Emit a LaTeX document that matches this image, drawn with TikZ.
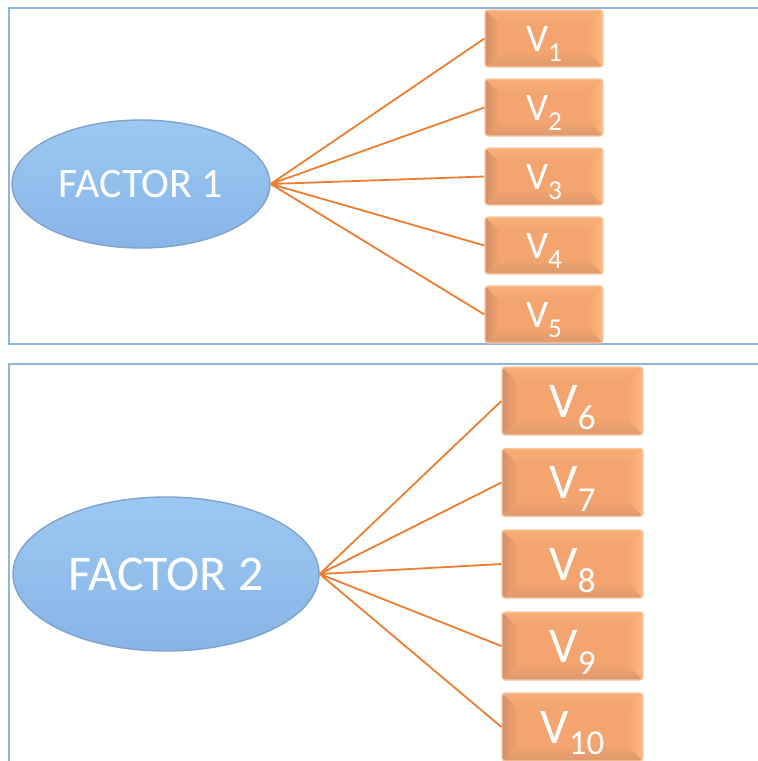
\documentclass[tikz,border=0pt]{standalone}
\usepackage{fontspec}
\usepackage{graphicx}
\setmainfont{Carlito}
\usetikzlibrary{shapes.geometric}

\definecolor{framec}{HTML}{8DB4E2}
\definecolor{linkc}{HTML}{ED7D31}
\definecolor{elltop}{HTML}{9CC8F2}
\definecolor{ellmid}{HTML}{8CB8E9}
\definecolor{ellbot}{HTML}{88B5E6}
\definecolor{ellrim}{HTML}{7EA3CC}
\definecolor{boxface}{HTML}{F3A46F}
\definecolor{boxrim}{HTML}{F8C9A2}
\definecolor{bvleft}{HTML}{D38F69}
\definecolor{bvtop}{HTML}{F8AE77}
\definecolor{bvright}{HTML}{FDB87E}
\definecolor{bvbot}{HTML}{DC996D}

% V with a lowered index
\newcommand{\vsub}[2][0.28em]{V\raisebox{-#1}[0pt][0pt]{\scalebox{0.7}{#2}}}

% bevel strips inside a box
\newcommand{\bevel}[1]{%
  \path (path picture bounding box.north west) coordinate (bNW)
        (path picture bounding box.north east) coordinate (bNE)
        (path picture bounding box.south east) coordinate (bSE)
        (path picture bounding box.south west) coordinate (bSW);
  \path (bNW) ++(#1,-#1) coordinate (iNW);
  \path (bNE) ++(-#1,-#1) coordinate (iNE);
  \path (bSE) ++(-#1,#1) coordinate (iSE);
  \path (bSW) ++(#1,#1) coordinate (iSW);
  \shade[sharp corners, top color=bvtop, bottom color=boxface] (bNW)--(bNE)--(iNE)--(iNW)--cycle;
  \shade[sharp corners, top color=boxface, bottom color=bvbot] (bSW)--(iSW)--(iSE)--(bSE)--cycle;
  \shade[sharp corners, left color=bvleft, right color=boxface] (bNW)--(iNW)--(iSW)--(bSW)--cycle;
  \shade[sharp corners, left color=boxface, right color=bvright] (bNE)--(bSE)--(iSE)--(iNE)--cycle;
}

\tikzset{
  factor/.style={ellipse, draw=ellrim, line width=1.4pt, top color=elltop,
    middle color=ellmid, bottom color=ellbot, text=white, inner sep=0pt},
  vbox/.style={rectangle, rounded corners=3pt, draw=boxrim, line width=1.2pt,
    fill=boxface, text=white, inner sep=0pt, path picture={\bevel{#1}}},
  link/.style={linkc, line width=1.8pt},
  panel/.style={framec, line width=1.6pt},
}

\begin{document}
\begin{tikzpicture}[x=1pt, y=-1pt]
    \useasboundingbox (0,0) rectangle (758,761);
    \clip (0,0) rectangle (758,761);

    % Two panels, open to the right (and below)
    \draw[panel] (9,8) rectangle (780,344);
    \draw[panel] (9,364) rectangle (780,790);

    % Factor 1 and its five variables
    \node[factor, minimum width=258, minimum height=128,
          font=\fontsize{42}{42}\selectfont] (f1) at (141,184) {FACTOR 1};

    \tikzset{every node/.append style={vbox=15pt, minimum width=118, minimum height=57,
             font=\fontsize{39}{39}\selectfont}}
    \node (v1) at (544,38.5) {\vsub{1}};
    \node (v2) at (544,107.5) {\vsub{2}};
    \node (v3) at (544,176.5) {\vsub{3}};
    \node (v4) at (544,245.5) {\vsub{4}};
    \node (v5) at (544,314.5) {\vsub{5}};

    \draw[link] (f1.east) -- (v1.west) (f1.east) -- (v2.west) (f1.east) -- (v3.west)
                (f1.east) -- (v4.west) (f1.east) -- (v5.west); % Fan out from factor 1

    % Factor 2 and its five variables
    \tikzset{every node/.style={}}
    \node[factor, minimum width=306, minimum height=154,
          font=\fontsize{50}{50}\selectfont] (f2) at (166,574) {FACTOR 2};

    \tikzset{every node/.append style={vbox=16pt, minimum width=141, minimum height=68,
             font=\fontsize{50}{50}\selectfont}}
    \node (v6) at (572.5,401) {\vsub[0.25em]{6}};
    \node (v7) at (572.5,482.5) {\vsub[0.25em]{7}};
    \node (v8) at (572.5,564) {\vsub[0.25em]{8}};
    \node (v9) at (572.5,646) {\vsub[0.25em]{9}};
    \node (v10) at (572.5,727) {\vsub[0.22em]{10}};

    \draw[link] (f2.east) -- (v6.west) (f2.east) -- (v7.west) (f2.east) -- (v8.west)
                (f2.east) -- (v9.west) (f2.east) -- (v10.west); % Fan out from factor 2
\end{tikzpicture}
\end{document}
